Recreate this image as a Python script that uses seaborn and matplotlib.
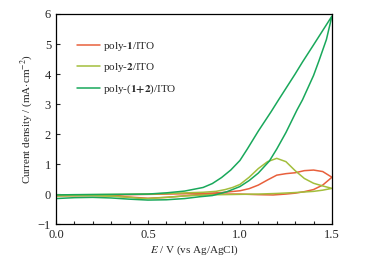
import numpy as np
import pandas as pd
import matplotlib
matplotlib.use('Agg')
import matplotlib.pyplot as plt
from matplotlib.ticker import MultipleLocator
import seaborn as sns

# data: each CV loop = forward branch + return branch
e_p1_fwd = [0.0, 0.2, 0.4, 0.6, 0.8, 0.9, 1.0, 1.05, 1.1, 1.15, 1.2, 1.25, 1.3, 1.35, 1.4, 1.45, 1.5]
j_p1_fwd = [-0.05, -0.04, -0.02, 0.0, 0.02, 0.05, 0.11, 0.18, 0.3, 0.47, 0.63, 0.68, 0.71, 0.78, 0.8, 0.75, 0.56]
e_p1_rev = [1.5, 1.45, 1.4, 1.35, 1.3, 1.25, 1.18, 1.1, 1.0, 0.9, 0.8, 0.7, 0.6, 0.5, 0.4, 0.3, 0.2, 0.0]
j_p1_rev = [0.56, 0.3, 0.15, 0.08, 0.03, 0.0, -0.03, -0.02, 0.0, 0.0, -0.02, -0.06, -0.11, -0.14, -0.1, -0.06, -0.05, -0.05]

e_p2_fwd = [0.0, 0.2, 0.4, 0.5, 0.6, 0.7, 0.8, 0.87, 0.92, 0.96, 1.0, 1.05, 1.1, 1.15, 1.2, 1.25, 1.3, 1.35, 1.4, 1.45, 1.5]
j_p2_fwd = [-0.03, -0.02, -0.01, 0.0, 0.02, 0.04, 0.06, 0.09, 0.15, 0.22, 0.32, 0.56, 0.85, 1.08, 1.19, 1.08, 0.78, 0.52, 0.36, 0.27, 0.19]
e_p2_rev = [1.5, 1.45, 1.4, 1.3, 1.2, 1.1, 1.0, 0.9, 0.8, 0.7, 0.6, 0.5, 0.45, 0.4, 0.3, 0.2, 0.1, 0.0]
j_p2_rev = [0.19, 0.13, 0.09, 0.05, 0.02, 0.0, -0.01, -0.02, -0.03, -0.06, -0.11, -0.15, -0.14, -0.11, -0.07, -0.05, -0.05, -0.06]

e_p12_fwd = [0.0, 0.1, 0.2, 0.3, 0.4, 0.5, 0.6, 0.7, 0.78, 0.85, 0.93, 1.0, 1.05, 1.1, 1.16, 1.2, 1.25, 1.31, 1.34, 1.4, 1.43, 1.47, 1.5]
j_p12_fwd = [-0.15, -0.12, -0.11, -0.13, -0.17, -0.2, -0.19, -0.15, -0.09, -0.05, 0.08, 0.25, 0.45, 0.7, 1.1, 1.5, 2.05, 2.8, 3.14, 3.95, 4.45, 5.15, 5.93]
e_p12_rev = [1.5, 1.45, 1.4, 1.34, 1.3, 1.21, 1.17, 1.1, 1.04, 1.0, 0.95, 0.9, 0.85, 0.8, 0.7, 0.6, 0.5, 0.3, 0.1, 0.0]
j_p12_rev = [5.93, 5.45, 4.97, 4.4, 4.0, 3.14, 2.75, 2.1, 1.5, 1.12, 0.8, 0.55, 0.35, 0.22, 0.1, 0.04, 0.0, -0.01, -0.02, -0.03]

labels = [r'poly-$\mathbf{1}$/ITO', r'poly-$\mathbf{2}$/ITO', r'poly-($\mathbf{1{+}2}$)/ITO']
colors = ['#e8603c', '#a3be3c', '#19a85b']

sns.set_style('ticks')
plt.rcParams['font.family'] = ['Liberation Serif', 'DejaVu Serif']
plt.rcParams['mathtext.fontset'] = 'stix'
plt.rcParams['font.size'] = 8

fig = plt.figure(figsize=(3.68, 2.69), dpi=100)
ax = fig.add_axes([0.152, 0.167, 0.75, 0.781])

loops = [(e_p1_fwd + e_p1_rev, j_p1_fwd + j_p1_rev),
         (e_p2_fwd + e_p2_rev, j_p2_fwd + j_p2_rev),
         (e_p12_fwd + e_p12_rev, j_p12_fwd + j_p12_rev)]
for (e, j), lab, c in zip(loops, labels, colors):
    sns.lineplot(x=e, y=j, sort=False, estimator=None, color=c, lw=1.1, label=lab, ax=ax)

ax.set_xlim(0, 1.5)
ax.set_ylim(-1, 6)
ax.set_xticks([0.0, 0.5, 1.0, 1.5])
ax.set_xticklabels(['0.0', '0.5', '1.0', '1.5'])
ax.xaxis.set_minor_locator(MultipleLocator(0.1))
ax.set_yticks(range(-1, 7))
ax.set_yticklabels(['\u22121', '0', '1', '2', '3', '4', '5', '6'])
ax.tick_params(which='both', direction='in', labelsize=9, width=0.8)
ax.tick_params(which='major', length=3)
ax.tick_params(which='minor', length=2)
for s in ax.spines.values():
    s.set_linewidth(0.9)
    s.set_color('black')

ax.set_xlabel(r'$E$ / V (vs Ag/AgCl)', fontsize=8, labelpad=2)
ax.set_ylabel(r'Current density / (mA$\cdot$cm$^{-2}$)', fontsize=8, labelpad=2)

ax.legend(loc='upper left', bbox_to_anchor=(0.04, 0.925), frameon=False,
          fontsize=8, handlelength=2.1, labelspacing=0.75, handletextpad=0.25)

fig.savefig('out.png', dpi=100)
